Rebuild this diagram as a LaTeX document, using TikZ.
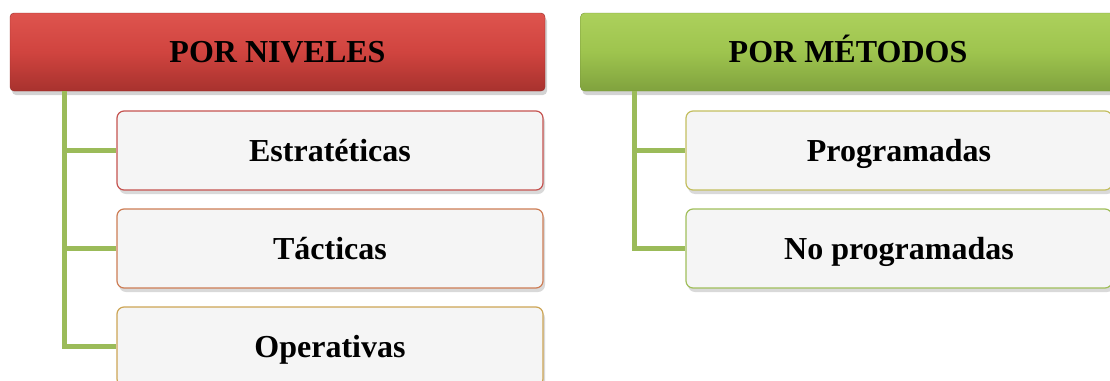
\documentclass[tikz,border=0pt]{standalone}
\usepackage{fontspec}
\setmainfont{Liberation Serif}
\usetikzlibrary{shadows}
\definecolor{linegreen}{RGB}{155,187,89}
\definecolor{boxfill}{RGB}{245,245,245}
\definecolor{bred}{RGB}{197,83,80}
\definecolor{borange}{RGB}{205,125,85}
\definecolor{bgold}{RGB}{205,165,85}
\definecolor{bolive}{RGB}{195,190,95}
\definecolor{bgreen}{RGB}{160,190,90}
\tikzset{
  hdr/.style={rounded corners=4pt, minimum width=535pt, minimum height=78pt,
    font=\fontsize{32}{36}\selectfont\bfseries, text=black,
    text height=21pt, text depth=0pt,
    drop shadow={shadow xshift=2pt, shadow yshift=-4pt, opacity=0.35}},
  hdrred/.style={hdr, top color={rgb,255:red,222;green,84;blue,78}, bottom color={rgb,255:red,168;green,50;blue,46}, middle color={rgb,255:red,208;green,68;blue,63}, draw={rgb,255:red,150;green,45;blue,42}},
  hdrgreen/.style={hdr, top color={rgb,255:red,172;green,208;blue,92}, bottom color={rgb,255:red,128;green,162;blue,62}, middle color={rgb,255:red,158;green,196;blue,78}, draw={rgb,255:red,120;green,150;blue,60}},
  child/.style={rounded corners=7pt, minimum width=426pt, minimum height=79pt, fill=boxfill, line width=1.2pt,
    font=\fontsize{32}{36}\selectfont\bfseries, text=black,
    text height=21pt, text depth=0pt,
    drop shadow={shadow xshift=2pt, shadow yshift=-4pt, opacity=0.3}},
  conn/.style={draw=linegreen, line width=5pt}
}
\begin{document}
\begin{tikzpicture}[x=1pt,y=-1pt]
\useasboundingbox (0,0) rectangle (1110,380);
\clip (0,0) rectangle (1110,380);
% headers
\node[hdrred] (hl) at (277.5,52) {POR NIVELES};
\node[hdrgreen] (hr) at (848,52) {POR MÉTODOS};
% children left
\node[child, draw=bred] (c1) at (330,150.5) {Estratéticas};
\node[child, draw=borange] (c2) at (330,248.5) {Tácticas};
\node[child, draw=bgold] (c3) at (330,346.5) {Operativas};
% children right
\node[child, draw=bolive] (d1) at (899,150.5) {Programadas};
\node[child, draw=bgreen] (d2) at (899,248.5) {No programadas};
% connectors
\coordinate (tl) at ([xshift=-213.5pt]hl.south);
\coordinate (tr) at ([xshift=-214pt]hr.south);
\draw[conn] (tl) |- (c3.west);
\draw[conn] (tl) |- (c2.west);
\draw[conn] (tl) |- (c1.west);
\draw[conn] (tr) |- (d2.west);
\draw[conn] (tr) |- (d1.west);
\end{tikzpicture}
\end{document}
